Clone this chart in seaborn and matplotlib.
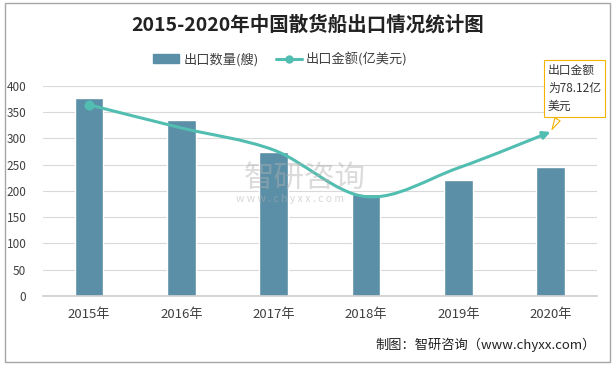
import numpy as np
import pandas as pd
import seaborn as sns
import matplotlib.pyplot as plt
from matplotlib.path import Path
from matplotlib.patches import FancyArrowPatch, Patch, Rectangle
from matplotlib.lines import Line2D

# data
years = ["2015年", "2016年", "2017年", "2018年", "2019年", "2020年"]
ship_count = [377, 335, 274, 194, 221, 246]          # 出口数量(艘)
export_value = [91.0, 80.0, 69.5, 47.3, 61.0, 78.12]  # 出口金额(亿美元)

bar_color = "#5a8fa7"
line_color = "#52bdb1"

sns.set_theme(style="white")
plt.rcParams["font.family"] = ["Noto Sans CJK SC", "DejaVu Sans"]

df = pd.DataFrame({"year": years, "count": ship_count, "value": export_value})

fig = plt.figure(figsize=(6.16, 3.68), dpi=100)
ax = fig.add_axes([0.0698, 0.1957, 0.899, 0.5707])

sns.barplot(data=df, x="year", y="count", color=bar_color, width=0.31,
            saturation=1, ax=ax, zorder=2)
ax.set_ylim(0, 400)
ax.set_xlim(-0.5, 5.5)
ax.set_yticks(range(0, 401, 50))
ax.yaxis.grid(True, color="#d9d9d9", linewidth=0.8, zorder=0)
ax.set_axisbelow(True)
for s in ["top", "right", "left"]:
    ax.spines[s].set_visible(False)
ax.spines["bottom"].set_color("#d0d0d0")
ax.tick_params(axis="y", labelsize=8.5, colors="#404040", length=0, pad=12)
ax.tick_params(axis="x", labelsize=9.5, colors="#404040", length=0, pad=9)
ax.set_xlabel("")
ax.set_ylabel("")

# export value on a hidden secondary axis 0-100
ax2 = ax.twinx()
ax2.set_ylim(0, 100)
ax2.set_axis_off()

# smooth line (Catmull-Rom as cubic bezier) with arrow at end
pts = np.column_stack([np.arange(len(years)), export_value]).astype(float)
verts = [pts[0]]
codes = [Path.MOVETO]
for i in range(len(pts) - 1):
    p0 = pts[max(i - 1, 0)]
    p1 = pts[i]
    p2 = pts[i + 1]
    p3 = pts[min(i + 2, len(pts) - 1)]
    verts += [p1 + (p2 - p0) / 6, p2 - (p3 - p1) / 6, p2]
    codes += [Path.CURVE4] * 3
arrow = FancyArrowPatch(path=Path(verts, codes), arrowstyle="-|>", mutation_scale=11,
                        color=line_color, linewidth=2.2, zorder=4)
ax2.add_patch(arrow)
sns.scatterplot(x=[pts[0][0]], y=[pts[0][1]], color=line_color, s=45,
                edgecolor=line_color, ax=ax2, zorder=5, legend=False)
ax2.set_xlim(-0.5, 5.5)
ax2.set_ylim(0, 100)

# callout for 2020
ax2.annotate("出口金额\n为78.12亿\n美元", xy=(pts[-1][0], pts[-1][1]),
             xytext=(548 / 616, 1 - 113 / 368), textcoords="figure fraction",
             fontsize=8.5, color="#333333", ha="left", va="bottom", linespacing=1.5,
             bbox=dict(boxstyle="square,pad=0.3", fc="white", ec="#f5b400", lw=0.8),
             arrowprops=dict(arrowstyle="wedge,tail_width=0.5", fc="white", ec="#f5b400", lw=0.8),
             zorder=6)

# title
fig.text(0.5, 1 - 25 / 368, "2015-2020年中国散货船出口情况统计图", ha="center", va="center",
         fontsize=14, fontweight="bold", color="#222222")

# legend
handles = [Patch(facecolor=bar_color, edgecolor=bar_color, label="出口数量(艘)"),
           Line2D([0], [0], color=line_color, lw=2.2, marker="o", markersize=5,
                  label="出口金额(亿美元)")]
fig.legend(handles=handles, loc="center", bbox_to_anchor=(0.455, 1 - 59 / 368), ncol=2,
           frameon=False, fontsize=9.5, handlelength=2.0, handleheight=0.6,
           columnspacing=1.3, handletextpad=0.3, labelcolor="#404040")

# watermark
fig.text(0.495, 1 - 178 / 368, "智研咨询", ha="center", va="center", fontsize=22,
         color="#b0b0b0", alpha=0.45, zorder=10)
fig.text(0.47, 1 - 199 / 368, "w w w . c h y x x . c o m", ha="center", va="center",
         fontsize=7.5, color="#b0b0b0", alpha=0.5, zorder=10)

# source
fig.text(596 / 616, 1 - 345 / 368, "制图：智研咨询（www.chyxx.com）", ha="right", va="center",
         fontsize=9.5, color="#222222")

# outer frame
fig.patches.append(Rectangle((0.008, 0.015), 0.983, 0.977, transform=fig.transFigure,
                             fill=False, ec="#a6a6a6", lw=1))

fig.savefig("out.png", dpi=100)
